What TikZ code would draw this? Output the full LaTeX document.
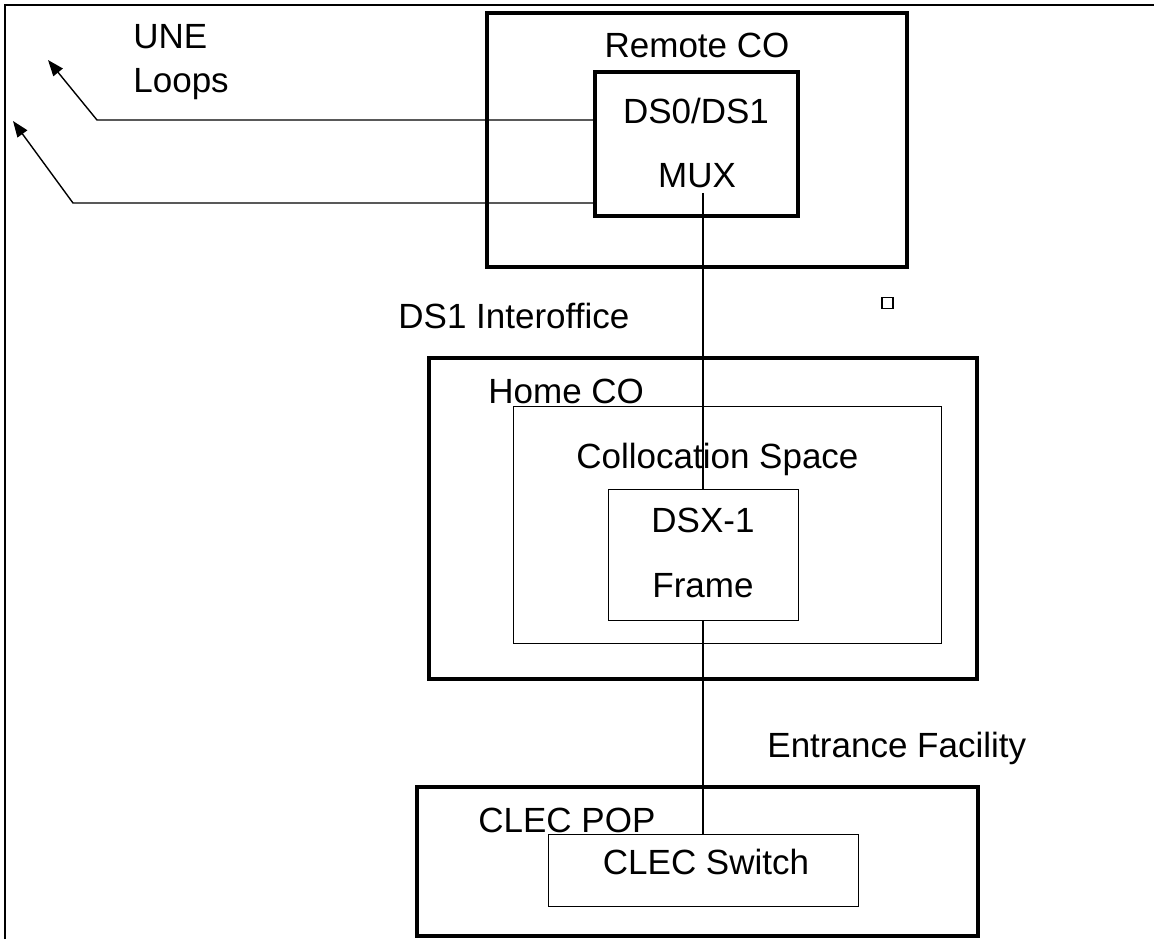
\documentclass[tikz,border=0pt]{standalone}
\usepackage{fontspec}
\setmainfont{Liberation Sans}
\usetikzlibrary{arrows.meta, positioning}

\tikzset{
  lbl/.style={font=\fontsize{17.5}{22}\selectfont, inner sep=0pt},
  heavybox/.style={draw, line width=2.3pt, inner sep=0pt},
  muxbox/.style={draw, line width=1.6pt, inner sep=0pt},
  thinbox/.style={draw, line width=0.5pt, inner sep=0pt},
  wire/.style={line width=0.6pt},
  loopwire/.style={line width=0.7pt, -{Triangle[length=8pt,width=6pt]}}
}

\begin{document}
\begin{tikzpicture}[x=0.5pt,y=-0.5pt]
\useasboundingbox (0,0) rectangle (1154,939);
\draw[line width=1pt] (5,939) -- (5,5) -- (1154,5);

% remote office
\node[heavybox, minimum width=210pt, minimum height=127pt] (remote) at (697,140) {};
\node[muxbox, minimum width=101.5pt, minimum height=72pt] (mux) at (696.5,144) {};
\node[lbl, anchor=base] (remotetxt) at (697,57) {Remote CO};
\node[lbl, anchor=base] (ds0txt) at (696,123) {DS0/DS1};
\node[lbl, anchor=base] (muxtxt) at (697,187) {MUX};

% loops
\node[lbl, anchor=base west] (une) at (133,48) {UNE};
\node[lbl, anchor=base west] (loops) at (133,92) {Loops};
\coordinate (bend1) at (97,120);
\coordinate (tip1) at (48,60);
\coordinate (bend2) at (73,203);
\coordinate (tip2) at (13,121);
\draw[loopwire] (mux.west |- bend1) -- (bend1) -- (tip1);
\draw[loopwire] (mux.west |- bend2) -- (bend2) -- (tip2);

\node[draw, line width=0.75pt, minimum size=5.5pt, inner sep=0pt] (mark) at (887.5,303) {};
\node[lbl, anchor=base west] (interoffice) at (398,328) {DS1 Interoffice};

% home office
\node[heavybox, minimum width=274pt, minimum height=160.5pt] (home) at (703,518.5) {};
\node[thinbox, minimum width=214pt, minimum height=118.5pt] (colloc) at (727,524.5) {};
\node[thinbox, minimum width=95pt, minimum height=65.5pt] (dsx) at (703,554.5) {};
\node[lbl, anchor=base west] (hometxt) at (488,403) {Home CO};
\node[lbl, anchor=base west] (colloctxt) at (576,468) {Collocation Space};
\node[lbl, anchor=base] (dsxtxt) at (703,532) {DSX-1};
\node[lbl, anchor=base] (frametxt) at (703,597) {Frame};

\node[lbl, anchor=base west] (entrance) at (767,757) {Entrance Facility};

% clec
\node[heavybox, minimum width=280.5pt, minimum height=74.5pt] (pop) at (697.5,861.5) {};
\node[thinbox, minimum width=155pt, minimum height=36pt] (switch) at (703,870) {};
\node[lbl, anchor=base west] (poptxt) at (478,832) {CLEC POP};
\node[lbl, anchor=base] (switchtxt) at (706,874) {CLEC Switch};

\draw[wire] ([yshift=-2.5pt]muxtxt.south -| dsx.north) -- (dsx.north);
\draw[wire] (dsx.south) -- (switch.north);
\end{tikzpicture}
\end{document}
